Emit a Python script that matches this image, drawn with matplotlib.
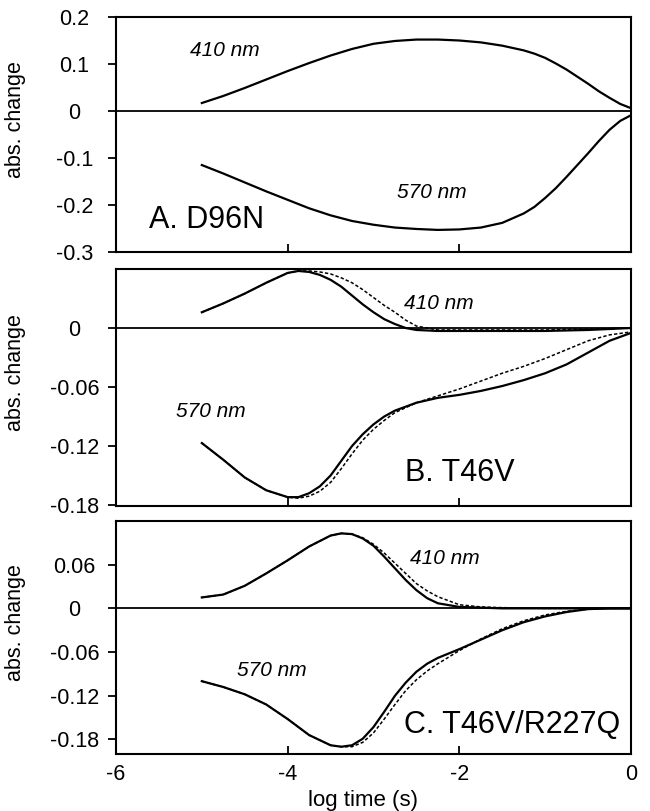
import numpy as np
import matplotlib.pyplot as plt

plt.rcParams['font.family'] = ['Liberation Sans', 'DejaVu Sans']

# Panel A : D96N
xa = [-5, -4.75, -4.5, -4.25, -4, -3.75, -3.5, -3.25, -3, -2.75, -2.5,
      -2.25, -2, -1.75, -1.5, -1.25, -1.125, -1, -0.875, -0.75, -0.625,
      -0.5, -0.375, -0.25, -0.125, 0]
a410 = [0.017, 0.032, 0.049, 0.067, 0.085, 0.102, 0.118, 0.132, 0.143, 0.149, 0.152,
        0.152, 0.150, 0.146, 0.139, 0.129, 0.122, 0.113, 0.101, 0.088, 0.073,
        0.058, 0.042, 0.028, 0.015, 0.006]
a570 = [-0.115, -0.133, -0.152, -0.171, -0.189, -0.207, -0.222, -0.234, -0.242, -0.248, -0.251,
        -0.253, -0.252, -0.248, -0.238, -0.218, -0.204, -0.185, -0.164, -0.140, -0.115,
        -0.090, -0.064, -0.040, -0.021, -0.009]

# Panel B : T46V
xb410 = [-5, -4.75, -4.5, -4.25, -4, -3.875, -3.75, -3.625, -3.5, -3.375, -3.25,
         -3.125, -3, -2.875, -2.75, -2.625, -2.5, -2.25, -2, -1.5, -1, -0.5, 0]
b410 = [0.016, 0.025, 0.035, 0.046, 0.056, 0.058, 0.057, 0.054, 0.049, 0.042, 0.033,
        0.024, 0.016, 0.009, 0.004, 0.000, -0.002, -0.003, -0.003, -0.003, -0.003, -0.002, 0.0]
b410_fit = [0.016, 0.025, 0.035, 0.046, 0.056, 0.058, 0.058, 0.057, 0.055, 0.051, 0.046,
            0.039, 0.031, 0.023, 0.016, 0.008, 0.002, -0.002, -0.002, -0.002, -0.002, -0.001, 0.0]
xb570 = [-5, -4.75, -4.5, -4.25, -4, -3.875, -3.75, -3.625, -3.5, -3.375, -3.25,
         -3.125, -3, -2.875, -2.75, -2.5, -2.25, -2, -1.75, -1.5, -1.25, -1,
         -0.75, -0.5, -0.25, 0]
b570 = [-0.117, -0.134, -0.152, -0.165, -0.172, -0.172, -0.168, -0.161, -0.150, -0.135, -0.120,
        -0.108, -0.098, -0.090, -0.084, -0.076, -0.071, -0.068, -0.064, -0.059, -0.053, -0.046,
        -0.037, -0.025, -0.013, -0.005]
b570_fit = [-0.117, -0.134, -0.152, -0.165, -0.172, -0.173, -0.171, -0.166, -0.157, -0.143, -0.128,
            -0.114, -0.103, -0.094, -0.086, -0.076, -0.069, -0.062, -0.054, -0.046, -0.039, -0.031,
            -0.022, -0.013, -0.007, -0.004]

# Panel C : T46V/R227Q
xc410 = [-5, -4.75, -4.5, -4.25, -4, -3.75, -3.5, -3.375, -3.25, -3.125, -3, -2.875,
         -2.75, -2.625, -2.5, -2.375, -2.25, -2, -1.75, -1.5, -1, -0.5, 0]
c410 = [0.015, 0.019, 0.031, 0.048, 0.066, 0.085, 0.100, 0.103, 0.102, 0.096, 0.086, 0.071,
        0.055, 0.039, 0.025, 0.014, 0.007, 0.002, 0.001, 0.0, 0.0, 0.0, 0.0]
c410_fit = [0.015, 0.019, 0.031, 0.048, 0.066, 0.085, 0.100, 0.103, 0.102, 0.097, 0.088, 0.076,
            0.062, 0.048, 0.034, 0.024, 0.016, 0.005, 0.002, 0.001, 0.0, 0.0, 0.0]
xc570 = [-5, -4.75, -4.5, -4.25, -4, -3.75, -3.5, -3.375, -3.25, -3.125, -3, -2.875,
         -2.75, -2.625, -2.5, -2.375, -2.25, -2, -1.75, -1.5, -1.25, -1, -0.75, -0.5, -0.25, 0]
c570 = [-0.100, -0.108, -0.118, -0.132, -0.152, -0.174, -0.188, -0.190, -0.188, -0.179, -0.163, -0.142,
        -0.120, -0.102, -0.087, -0.076, -0.068, -0.056, -0.043, -0.030, -0.019, -0.011, -0.005, -0.001, 0.0, 0.0]
c570_fit = [-0.100, -0.108, -0.118, -0.132, -0.152, -0.174, -0.188, -0.190, -0.190, -0.184, -0.171, -0.152,
            -0.132, -0.113, -0.098, -0.086, -0.076, -0.058, -0.042, -0.028, -0.017, -0.009, -0.004, -0.001, 0.0, 0.0]

ticksA = [0.2, 0.1, 0, -0.1, -0.2, -0.3]
labelsA = ['0.2', '0.1', '0', '-0.1', '-0.2', '-0.3']
ticksB = [0, -0.06, -0.12, -0.18]
labelsB = ['0', '-0.06', '-0.12', '-0.18']
ticksC = [0.06, 0, -0.06, -0.12, -0.18]
labelsC = ['0.06', '0', '-0.06', '-0.12', '-0.18']

fig = plt.figure(figsize=(6.5, 8.11), dpi=100)
left, width = 116/650, (631-116)/650
boxes = [(17, 252), (269, 506), (521, 754)]
axes = []
for top, bot in boxes:
    axes.append(fig.add_axes([left, 1-bot/811, width, (bot-top)/811]))
axA, axB, axC = axes

dash = (0, (2.2, 1.4))
axA.plot(xa, a410, color='black', lw=1.6)
axA.plot(xa, a570, color='black', lw=1.6)
axB.plot(xb410, b410_fit, color='black', lw=1.1, ls=dash)
axB.plot(xb410, b410, color='black', lw=1.6)
axB.plot(xb570, b570_fit, color='black', lw=1.1, ls=dash)
axB.plot(xb570, b570, color='black', lw=1.6)
axC.plot(xc410, c410_fit, color='black', lw=1.1, ls=dash)
axC.plot(xc410, c410, color='black', lw=1.6)
axC.plot(xc570, c570_fit, color='black', lw=1.1, ls=dash)
axC.plot(xc570, c570, color='black', lw=1.6)

axA.set_ylim(-0.3, 0.2)
axB.set_ylim(-0.181, 0.06)
axC.set_ylim(-0.2, 0.12)
for ax, t, l in zip(axes, [ticksA, ticksB, ticksC], [labelsA, labelsB, labelsC]):
    ax.axhline(0, color='black', lw=1.3)
    ax.set_xlim(-6, 0)
    ax.set_xticks([-6, -4, -2, 0])
    ax.set_yticks(t)
    ax.set_yticklabels(l, ha='center')
    ax.tick_params(axis='y', direction='out', length=6, width=1.3, pad=24, labelsize=15.5)
    ax.tick_params(axis='x', direction='in', length=6, width=1.3, pad=7, labelsize=15.5)
    for s in ax.spines.values():
        s.set_linewidth(1.5)
    ax.set_ylabel('abs. change', fontsize=15.5)
    ax.yaxis.set_label_coords(-0.175, 0.565)

axA.set_xticklabels([])
axB.set_xticklabels([])
axC.set_xticklabels(['-6', '-4', '-2', '0'])
axC.set_xlabel('log time (s)', fontsize=16, labelpad=1)
axC.xaxis.set_label_coords(0.48, -0.155)

tk = dict(ha='center', va='center', fontsize=15, style='italic')
axA.text(-4.73, 0.128, '410 nm', **tk)
axA.text(-2.32, -0.174, '570 nm', **tk)
axA.text(-4.95, -0.232, 'A. D96N', ha='center', va='center', fontsize=22)
axB.text(-2.24, 0.025, '410 nm', **tk)
axB.text(-4.90, -0.085, '570 nm', **tk)
axB.text(-2.0, -0.1475, 'B. T46V', ha='center', va='center', fontsize=22)
axC.text(-2.17, 0.069, '410 nm', **tk)
axC.text(-4.19, -0.085, '570 nm', **tk)
axC.text(-1.385, -0.160, 'C. T46V/R227Q', ha='center', va='center', fontsize=22)

fig.savefig('out.png', dpi=100)
